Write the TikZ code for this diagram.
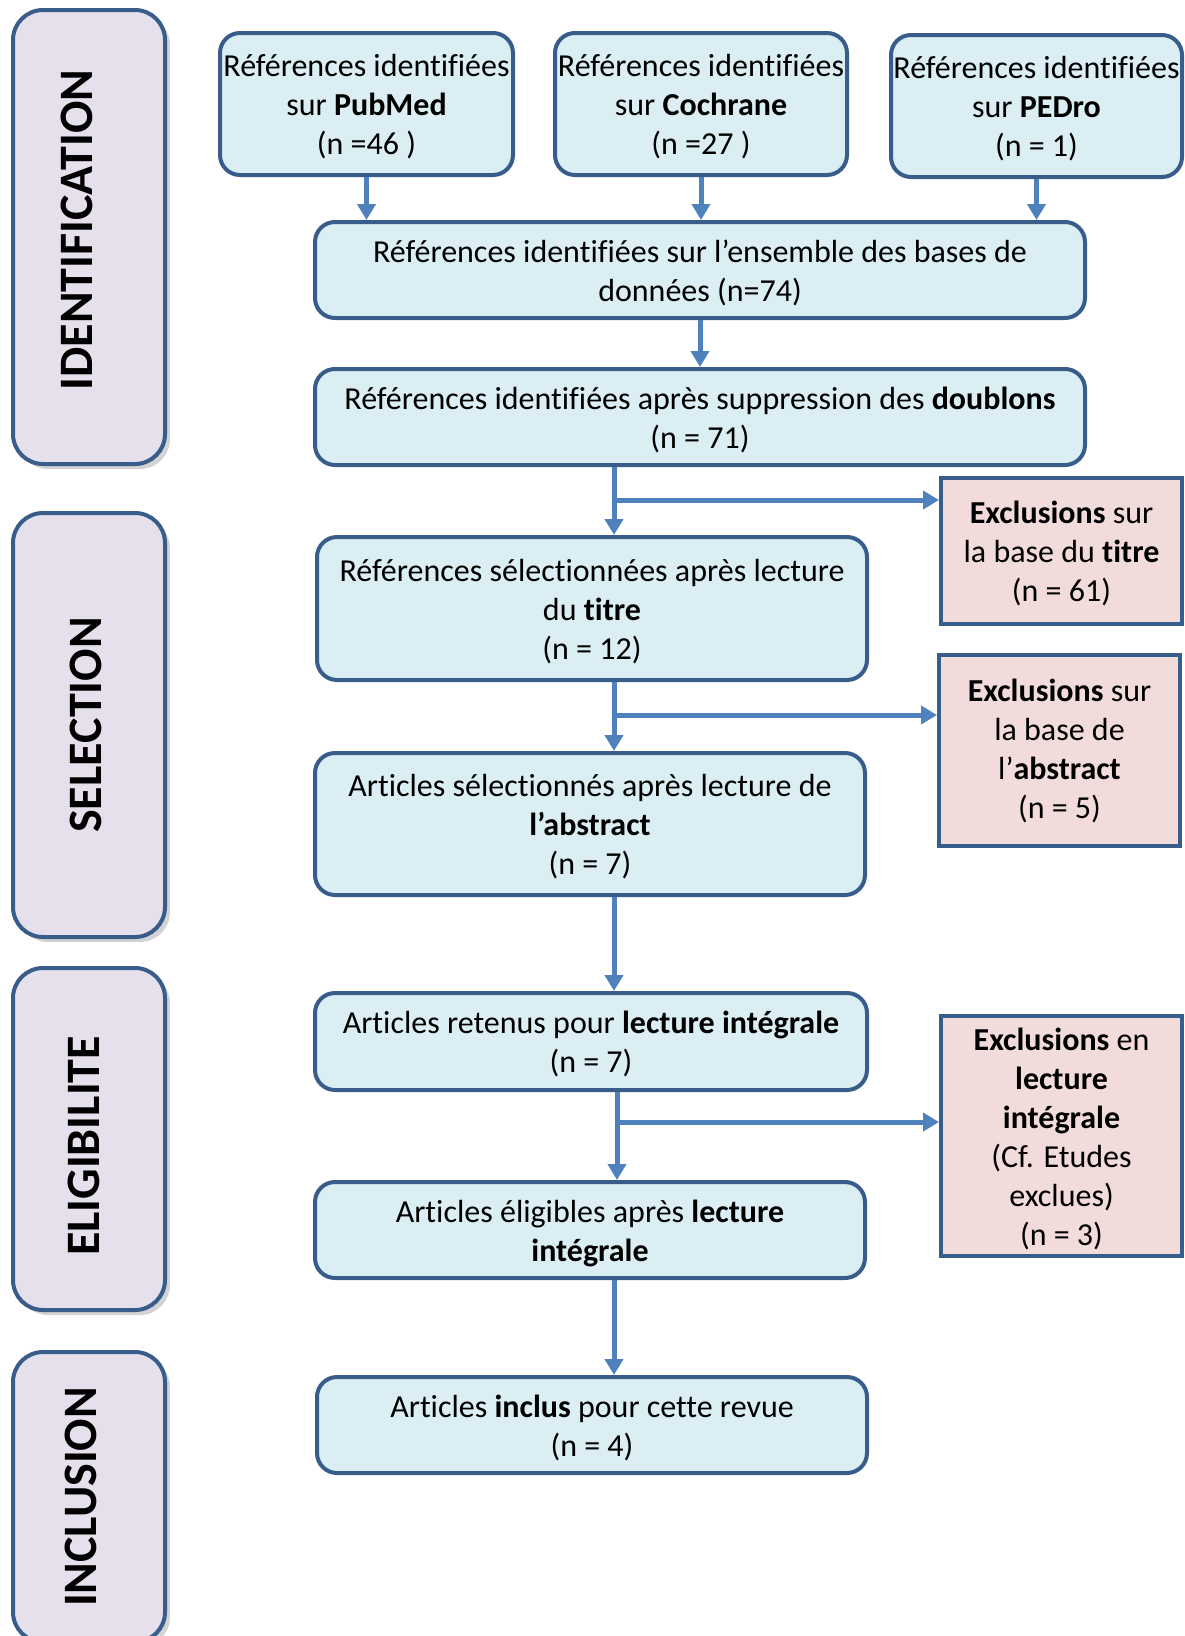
\documentclass[tikz,border=0pt]{standalone}
\usepackage{fontspec}
\setmainfont{Carlito}[Ligatures=NoCommon]
\usetikzlibrary{arrows.meta,shadows}
\definecolor{boxblue}{HTML}{DAEEF3}
\definecolor{boxline}{HTML}{385D8A}
\definecolor{arrowblue}{HTML}{4F81BD}
\definecolor{stagefill}{HTML}{E5E0EC}
\definecolor{exclfill}{HTML}{F2DCDB}
\newcommand{\strutT}{\rule{0pt}{31pt}}
\newcommand{\strutB}{\rule[-8pt]{0pt}{8pt}}

\begin{document}
\begin{tikzpicture}[x=1pt,y=-1pt,
    every node/.style={font=\fontsize{32}{39}\selectfont, align=center, inner sep=0pt},
    stagebox/.style={draw=boxline, line width=4pt, fill=stagefill, rounded corners=30pt, minimum width=152pt,
      drop shadow={shadow xshift=5pt, shadow yshift=-5pt, opacity=0.35}},
    stagelabel/.style={rotate=90, font=\fontsize{48}{58}\selectfont\bfseries},
    refbox/.style={draw=boxline, line width=4pt, fill=boxblue, rounded corners=20pt},
    exclbox/.style={draw=boxline, line width=4pt, fill=exclfill, minimum width=241pt},
    flow/.style={draw=arrowblue, line width=5pt, -{Triangle[width=18pt,length=16pt]}}]
    \useasboundingbox (0,0) rectangle (1184,1636);

    \node[stagebox, minimum height=454pt] (identBox) at (89,237) {};
    \node[xshift=-12.5pt, yshift=7pt, stagelabel] (identLabel) at (identBox) {IDENTIFICATION};
    \node[stagebox, minimum height=424pt] (selectBox) at (89,725) {};
    \node[xshift=-3pt, stagelabel] (selectLabel) at (selectBox) {SELECTION};
    \node[stagebox, minimum height=342pt] (eligBox) at (89,1139) {};
    \node[xshift=-5pt, yshift=-7pt, stagelabel] (eligLabel) at (eligBox) {ELIGIBILITE};
    \node[stagebox, minimum height=290pt] (inclBox) at (89,1497) {};
    \node[xshift=-8pt, stagelabel] (inclLabel) at (inclBox) {INCLUSION};

    \node[refbox, minimum width=293pt, minimum height=142pt] (pubmed) at (366.5,104) {\strutT Références identifiées\\sur \textbf{PubMed}\\(n =46 )\strutB};
    \node[refbox, minimum width=292pt, minimum height=142pt] (cochrane) at (701,104) {\strutT Références identifiées\\sur \textbf{Cochrane}\\(n =27 )\strutB};
    \node[refbox, minimum width=291pt, minimum height=142pt] (pedro) at (1036.5,106) {\strutT Références identifiées\\sur \textbf{PEDro}\\(n = 1)\strutB};
    \node[refbox, minimum width=770pt, minimum height=96pt] (ensemble) at (700,270) {\strutT Références identifiées sur l’ensemble des bases de\\données (n=74)\strutB};
    \node[refbox, minimum width=770pt, minimum height=96pt] (doublons) at (700,417) {\strutT Références identifiées après suppression des \textbf{doublons}\\(n = 71)\strutB};
    \node[refbox, minimum width=550pt, minimum height=143pt] (titre) at (592,608.5) {\strutT Références sélectionnées après lecture\\du \textbf{titre}\\(n = 12)\strutB};
    \node[refbox, minimum width=550pt, minimum height=142pt] (abstract) at (590,824) {\strutT Articles sélectionnés après lecture de\\\textbf{l’abstract}\\(n = 7)\strutB};
    \node[refbox, minimum width=552pt, minimum height=97pt] (retenus) at (591,1041.5) {\strutT Articles retenus pour \textbf{lecture intégrale}\\(n = 7)\strutB};
    \node[refbox, minimum width=550pt, minimum height=96pt] (eligibles) at (590,1230) {\strutT Articles éligibles après \textbf{lecture}\\\textbf{intégrale}\strutB};
    \node[refbox, minimum width=550pt, minimum height=96pt] (inclus) at (592,1425) {\strutT Articles \textbf{inclus} pour cette revue\\(n = 4)\strutB};

    \node[exclbox, minimum height=146pt] (exTitre) at (1061.5,551) {\strutT\textbf{Exclusions} sur\\la base du \textbf{titre}\\(n = 61)\strutB};
    \node[exclbox, minimum height=191pt] (exAbstract) at (1059.5,750.5) {\textbf{Exclusions} sur\\la base de\\l’\textbf{abstract}\\(n = 5)};
    \node[exclbox, minimum height=240pt] (exInteg) at (1061.5,1136) {\strutT\textbf{Exclusions} en\\\textbf{lecture}\\\textbf{intégrale}\\(Cf. Etudes\\exclues)\\(n = 3)\strutB};

    \coordinate (trunk) at (614,0);
    \coordinate (trunkB) at (617,0);
    \coordinate (toTitre) at (614,500);
    \coordinate (toAbstract) at (614,715);
    \coordinate (toInteg) at (617,1122);

    \draw[flow] (pubmed.south) -- (pubmed.south |- ensemble.north);
    \draw[flow] (cochrane.south) -- (cochrane.south |- ensemble.north);
    \draw[flow] (pedro.south) -- (pedro.south |- ensemble.north);
    \draw[flow] (ensemble.south) -- (doublons.north);
    \draw[flow] (trunk |- doublons.south) -- (trunk |- titre.north);
    \draw[flow] (toTitre) -- (toTitre -| exTitre.west);
    \draw[flow] (trunk |- titre.south) -- (trunk |- abstract.north);
    \draw[flow] (toAbstract) -- (toAbstract -| exAbstract.west);
    \draw[flow] (trunk |- abstract.south) -- (trunk |- retenus.north);
    \draw[flow] (trunkB |- retenus.south) -- (trunkB |- eligibles.north);
    \draw[flow] (toInteg) -- (toInteg -| exInteg.west);
    \draw[flow] (trunk |- eligibles.south) -- (trunk |- inclus.north);
\end{tikzpicture}
\end{document}
